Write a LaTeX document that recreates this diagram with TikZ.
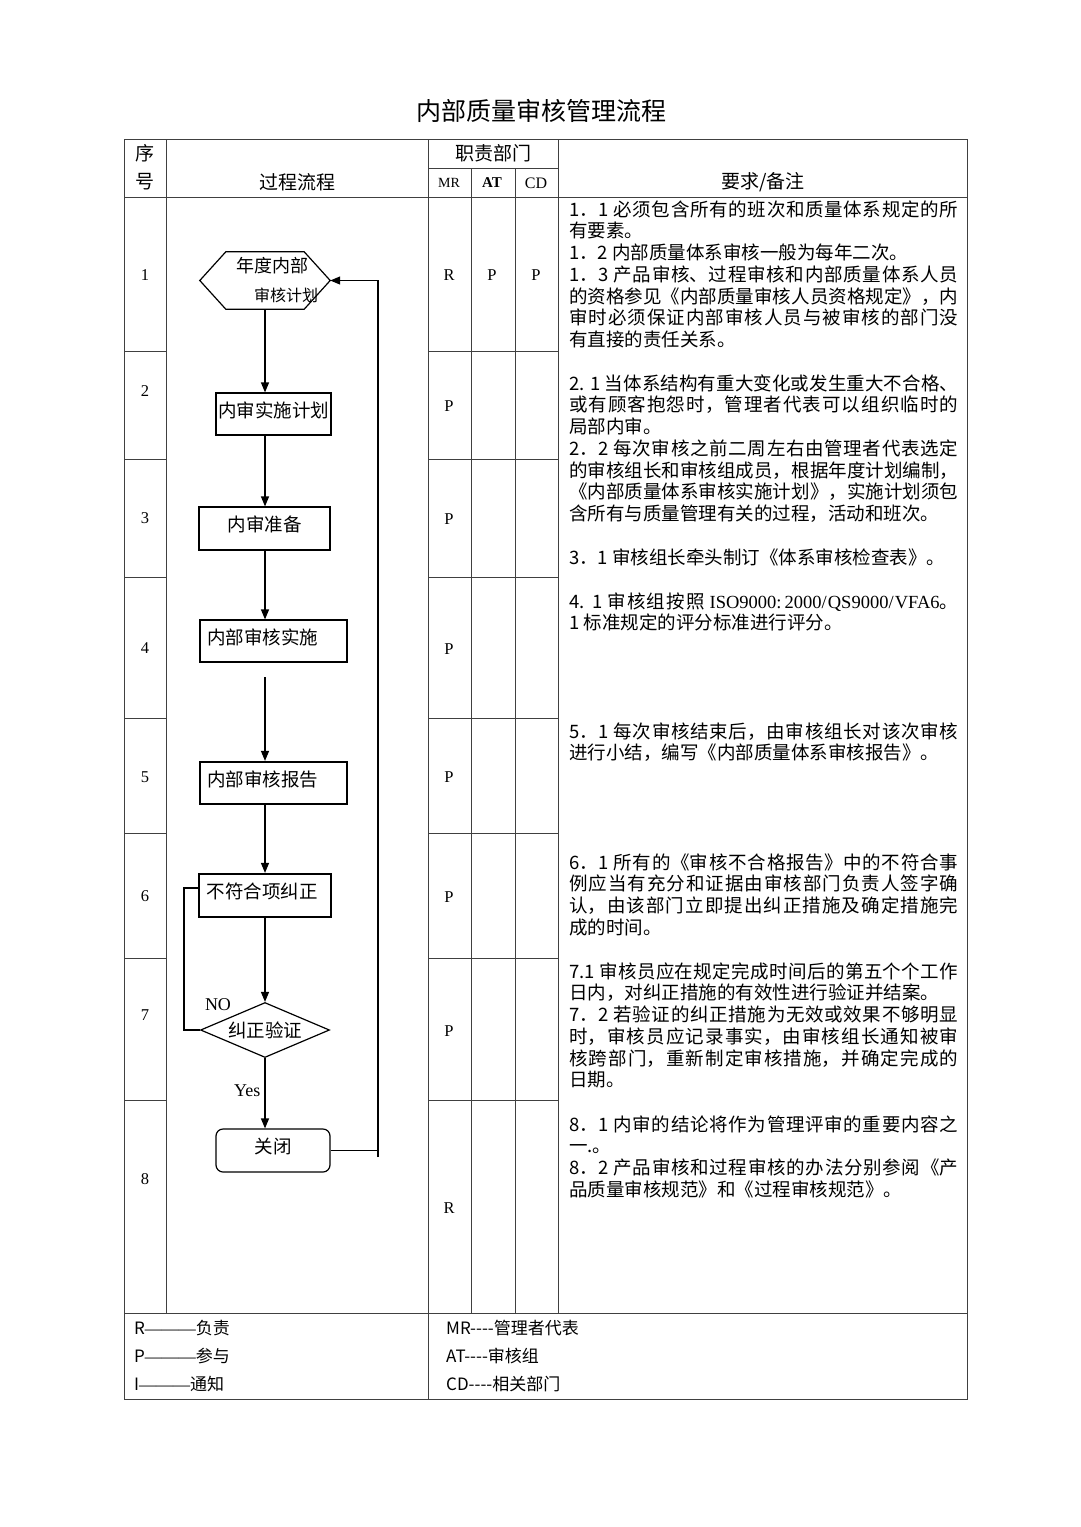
\documentclass[tikz,border=0pt]{standalone}
\usepackage{fontspec}
\setmainfont{Noto Sans CJK SC}
\newfontfamily\tnr{Liberation Serif}
\usepackage{tikz}
\usetikzlibrary{arrows.meta, shapes.geometric, positioning}

\XeTeXlinebreaklocale "zh"
\XeTeXlinebreakskip=0pt plus 3pt
\newcommand{\txtfont}{\fontsize{18.5}{21.78}\selectfont}
\newcommand{\dashes}{-\kern0pt-\kern0pt-\kern0pt-}

\begin{document}
\begin{tikzpicture}[
  x=1pt, y=-1pt,
  grid/.style={draw=black!75, line width=0.9pt},
  flowline/.style={draw=black, line width=1.2pt},
  arrow/.style={flowline, -{Triangle[length=10pt, width=8pt]}},
  flowbox/.style={
    rectangle, draw=black, line width=1.2pt, inner sep=0pt,
    minimum height=42pt, font=\txtfont,
    text height=15pt, text depth=9pt
  },
  thickbox/.style={flowbox, line width=2.2pt},
  head/.style={font=\fontsize{19}{19}\selectfont},
  latin/.style={font=\tnr\fontsize{16.5}{16.5}\selectfont},
  note/.style={
    anchor=base west, inner sep=0pt,
    text width=389pt, align=justify, font=\txtfont
  },
  legend/.style={anchor=west, inner sep=0pt, font=\fontsize{17}{17}\selectfont}
]
\useasboundingbox (0,0) rectangle (1080,1527);

% Titulo
\node[font=\fontsize{25}{25}\selectfont] (title) at (541,111) {内部质量审核管理流程};

% Tabla
\draw[grid] (124,139) rectangle (967,1399);
\draw[grid] (124,197) -- (967,197);
\draw[grid] (428,168) -- (558,168);
\draw[grid] (124,1313) -- (967,1313);
\draw[grid] (166,139) -- (166,1313);
\draw[grid] (428,139) -- (428,1399);
\draw[grid] (471,168) -- (471,1313);
\draw[grid] (515,168) -- (515,1313);
\draw[grid] (558,139) -- (558,1313);
\draw[grid] (124,351) -- (166,351) (428,351) -- (558,351);
\draw[grid] (124,459) -- (166,459) (428,459) -- (558,459);
\draw[grid] (124,577) -- (166,577) (428,577) -- (558,577);
\draw[grid] (124,718) -- (166,718) (428,718) -- (558,718);
\draw[grid] (124,833) -- (166,833) (428,833) -- (558,833);
\draw[grid] (124,958) -- (166,958) (428,958) -- (558,958);
\draw[grid] (124,1100) -- (166,1100) (428,1100) -- (558,1100);

% Cabecera
\node[head] (h1a) at (145,153) {序};
\node[head] (h1b) at (145,182) {号};
\node[head] (h2) at (297,182) {过程流程};
\node[head] (h3) at (493,153) {职责部门};
\node[font=\tnr\fontsize{14}{14}\selectfont] (hMR) at (449,183) {MR};
\node[font=\tnr\bfseries\fontsize{15}{15}\selectfont] (hAT) at (492,183) {AT};
\node[font=\tnr\fontsize{16}{16}\selectfont] (hCD) at (536,183) {CD};
\node[head] (h4) at (763,182) {要求/备注};

% Numeros de fila
\node[latin] (s1) at (145,275) {1};
\node[latin] (s2) at (145,391) {2};
\node[latin] (s3) at (145,518) {3};
\node[latin] (s4) at (145,648) {4};
\node[latin] (s5) at (145,777) {5};
\node[latin] (s6) at (145,896) {6};
\node[latin] (s7) at (145,1015) {7};
\node[latin] (s8) at (145,1179) {8};

% Responsables
\node[latin] (r1a) at (449,275) {R};
\node[latin] (r1b) at (492,275) {P};
\node[latin] (r1c) at (536,275) {P};
\node[latin] (r2) at (449,406) {P};
\node[latin] (r3) at (449,519) {P};
\node[latin] (r4) at (449,649) {P};
\node[latin] (r5) at (449,777) {P};
\node[latin] (r6) at (449,897) {P};
\node[latin] (r7) at (449,1031) {P};
\node[latin] (r8) at (449,1208) {R};

% Flujo
\coordinate (axis) at (265,0);
\node[inner sep=0pt, minimum width=130pt, minimum height=57pt, align=center,
      font=\fontsize{18}{29}\selectfont] (F1) at (265,280.5)
      {\hspace*{14pt}年度内部\\\hspace*{42pt}{\fontsize{16}{16}\selectfont 审核计划}};
\draw[flowline] (F1.west) -- ([xshift=26pt]F1.north west) -- ([xshift=-26pt]F1.north east)
  -- (F1.east) -- ([xshift=-26pt]F1.south east) -- ([xshift=26pt]F1.south west) -- cycle;
\node[flowbox, minimum width=115pt] (F2) at (273.5,414) {内审实施计划};
\node[flowbox, minimum width=131pt, minimum height=43pt] (F3) at (264.5,528.5) {内审准备};
\node[flowbox, minimum width=147pt] (F4) at (273.5,641) {内部审核实施\hspace*{22pt}};
\node[thickbox, minimum width=147pt] (F5) at (273.5,783) {内部审核报告\hspace*{22pt}};
\node[thickbox, minimum width=132pt, minimum height=43pt] (F6) at (265,895.5) {不符合项纠正\hspace*{6pt}};
\node[diamond, draw=black, line width=1.2pt, inner sep=0pt, aspect=2.3,
      minimum width=129pt, minimum height=55pt, font=\txtfont] (F7) at (265,1030) {纠正验证};
\node[flowbox, rounded corners=7pt, minimum width=114pt, minimum height=43pt] (F8) at (273,1150.5) {关闭};

\coordinate (gap) at (265,677);
\coordinate (back) at (378,1157);

% Flechas
\draw[arrow] (F1.south) -- (axis |- F2.north);
\draw[arrow] (axis |- F2.south) -- (axis |- F3.north);
\draw[arrow] (axis |- F3.south) -- (axis |- F4.north);
\draw[arrow] (gap) -- (axis |- F5.north);
\draw[arrow] (axis |- F5.south) -- (axis |- F6.north);
\draw[arrow] (axis |- F6.south) -- (F7.north);
\draw[arrow] (F7.south) -- node[pos=0.47, left=4pt, inner sep=0pt,
  font=\tnr\fontsize{18}{18}\selectfont] (yes) {Yes} (axis |- F8.north);
\draw[flowline] (F7.west) -- ++(-16,0) |- ([yshift=7.5pt]F6.west);
\node[font=\tnr\fontsize{18}{18}\selectfont] (no) at (218,1005) {NO};
\draw[flowline] (F8.east) -- (F8.east -| back);
\draw[arrow] (back) -- (back |- F1.east) -- (F1.east);

% Requisitos
\node[note] (N1) at (569,216) {1．1 必须包含所有的班次和质量体系规定的所\linebreak
有要素。\\
1．2 内部质量体系审核一般为每年二次。\\
1．3 产品审核、过程审核和内部质量体系人员\linebreak
的资格参见《内部质量审核人员资格规定》，内\linebreak
审时必须保证内部审核人员与被审核的部门没\linebreak
有直接的责任关系。};
\node[note] (N2) at (569,390) {2. 1 当体系结构有重大变化或发生重大不合格、\linebreak
或有顾客抱怨时，管理者代表可以组织临时的\linebreak
局部内审。\\
2．2 每次审核之前二周左右由管理者代表选定\linebreak
的审核组长和审核组成员，根据年度计划编制，\linebreak
《内部质量体系审核实施计划》，实施计划须包\linebreak
含所有与质量管理有关的过程，活动和班次。};
\node[note] (N3) at (569,564) {3．1 审核组长牵头制订《体系审核检查表》。};
\node[note] (N4) at (569,608) {4. 1 审核组按照 {\tnr ISO9000:\,2000/QS9000/VFA6}。\linebreak
1 标准规定的评分标准进行评分。};
\node[note] (N5) at (569,738) {5．1 每次审核结束后，由审核组长对该次审核\linebreak
进行小结，编写《内部质量体系审核报告》。};
\node[note] (N6) at (569,869) {6．1 所有的《审核不合格报告》中的不符合事\linebreak
例应当有充分和证据由审核部门负责人签字确\linebreak
认，由该部门立即提出纠正措施及确定措施完\linebreak
成的时间。};
\node[note] (N7) at (569,978) {7.1 审核员应在规定完成时间后的第五个个工作\linebreak
日内，对纠正措施的有效性进行验证并结案。\\
7．2 若验证的纠正措施为无效或效果不够明显\linebreak
时，审核员应记录事实，由审核组长通知被审\linebreak
核跨部门，重新制定审核措施，并确定完成的\linebreak
日期。};
\node[note] (N8) at (569,1131) {8．1 内审的结论将作为管理评审的重要内容之\linebreak
一.。\\
8．2 产品审核和过程审核的办法分别参阅《产\linebreak
品质量审核规范》和《过程审核规范》。};

% Leyenda
\node[legend] (k1) at (134,1328) {R{\tnr ———}负责};
\node[legend] (k2) at (134,1356) {P{\tnr ———}参与};
\node[legend] (k3) at (134,1384) {I{\tnr ———}通知};
\node[legend] (k4) at (446,1328) {MR\dashes 管理者代表};
\node[legend] (k5) at (446,1356) {AT\dashes 审核组};
\node[legend] (k6) at (446,1384) {CD\dashes 相关部门};

\end{tikzpicture}
\end{document}
